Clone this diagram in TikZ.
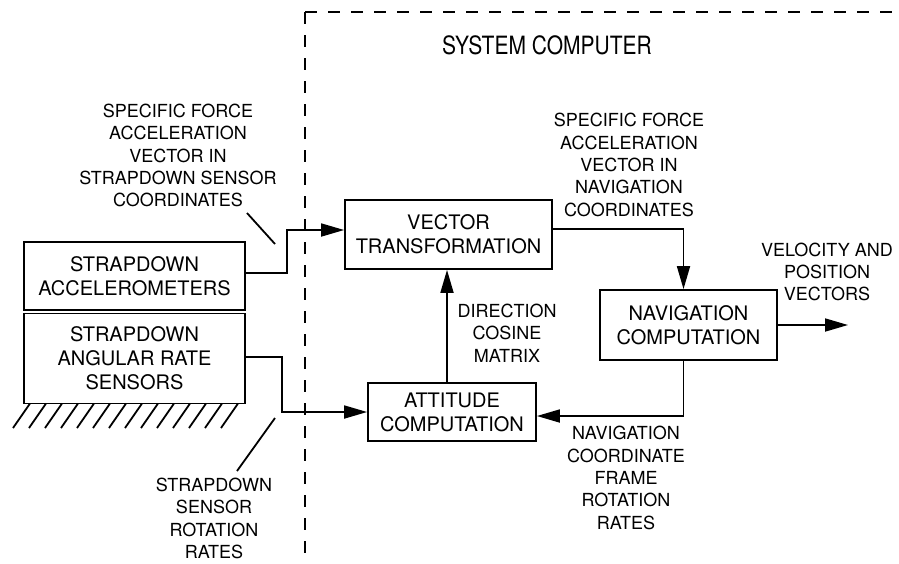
\documentclass[tikz,border=0pt]{standalone}
\usepackage{fontspec}
\setmainfont{TeX Gyre Heros}
\usetikzlibrary{arrows.meta}

\begin{document}
\begin{tikzpicture}[x=1pt,y=-1pt,line width=1.8pt,
	box/.style={draw,align=center,inner sep=0pt,font=\fontsize{20}{24}\selectfont},
	lbl/.style={align=center,inner sep=0pt,font=\fontsize{18}{22.4}\selectfont},
	flow/.style={-{Triangle[length=23pt,width=13pt]}},
	frame/.style={dash pattern=on 12pt off 11pt}]
	\useasboundingbox (0,0) rectangle (899,563);
	% system computer boundary
	\draw[frame] (305,12) -- (899,12);
	\draw[frame] (305,12) -- (305,555);
	\node[lbl,font=\fontsize{21}{24}\selectfont] (title) at (547,45) {\scalebox{1}[1.2]{SYSTEM COMPUTER}};
	% sensors on the body
	\node[box,minimum width=221pt,minimum height=68pt] (acc) at (134.5,276) {STRAPDOWN\\ACCELEROMETERS};
	\node[box,minimum width=221pt,minimum height=90pt] (rate) at (134.5,358.5) {STRAPDOWN\\ANGULAR RATE\\SENSORS};
	\foreach \k in {0,...,13}
	\draw ({13+16*\k},428) -- ({30+16*\k},403.5);
	% computer blocks
	\node[box,minimum width=207pt,minimum height=69pt] (vt) at (448.5,234.5) {VECTOR\\TRANSFORMATION};
	\node[box,minimum width=168pt,minimum height=58pt] (att) at (452,412) {ATTITUDE\\COMPUTATION};
	\node[box,minimum width=177pt,minimum height=70pt] (nav) at (688.5,325) {NAVIGATION\\COMPUTATION};
	\coordinate (out) at (848,325);
	% signal paths
	\draw[flow] ([yshift=3pt]acc.east) -- ++(41,0) |- ([yshift=4.5pt]vt.west);
	\draw[flow] ([yshift=1.5pt]rate.east) -- ++(36,0) |- (att);
	\draw[flow] ([xshift=-5pt]att.north) -- ([xshift=-1.5pt]vt.south);
	\draw[flow] ([yshift=5.5pt]vt.east) -| ([xshift=-5pt]nav.north);
	\draw[flow] (nav.east) -- (out);
	\draw[flow] ([xshift=-5pt]nav.south) |- ([yshift=-4pt]att.east);
	% labels
	\node[lbl] (accvec) at (178,155.5) {SPECIFIC FORCE\\ACCELERATION\\VECTOR IN\\STRAPDOWN SENSOR\\COORDINATES};
	\node[lbl] (navvec) at (629,165) {SPECIFIC FORCE\\ACCELERATION\\VECTOR IN\\NAVIGATION\\COORDINATES};
	\node[lbl] (dcm) at (507,333) {DIRECTION\\COSINE\\MATRIX};
	\node[lbl] (velpos) at (827,272) {VELOCITY AND\\POSITION\\VECTORS};
	\node[lbl] (navrate) at (626,478) {NAVIGATION\\COORDINATE\\FRAME\\ROTATION\\RATES};
	\node[lbl] (sensrate) at (214,518.5) {STRAPDOWN\\SENSOR\\ROTATION\\RATES};
	% leaders
	\coordinate (la) at (247,213);
	\coordinate (lb) at (275,244);
	\coordinate (lc) at (237,471);
	\coordinate (ld) at (275,418);
	\draw (la) -- (lb);
	\draw (lc) -- (ld);
\end{tikzpicture}
\end{document}
